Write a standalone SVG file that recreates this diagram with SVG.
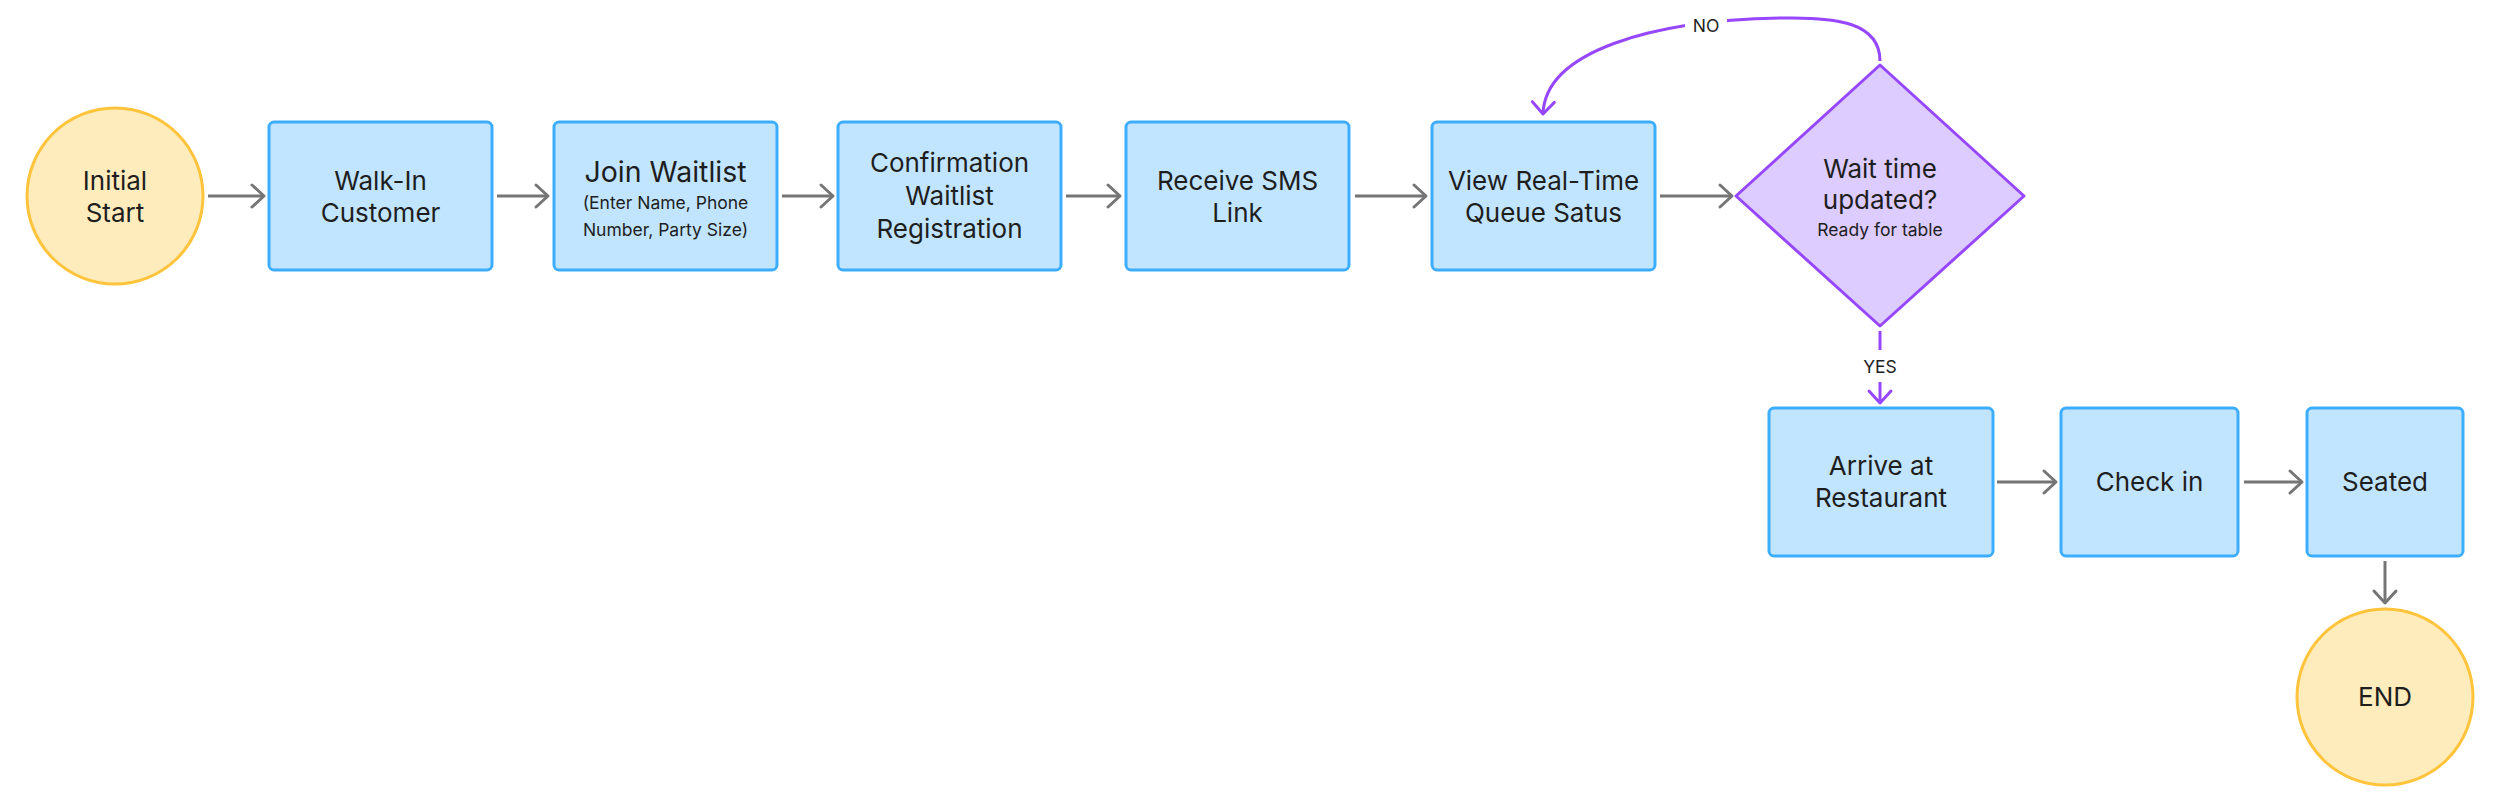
<svg xmlns="http://www.w3.org/2000/svg" width="2500" height="811" viewBox="0 0 2500 811">
<defs>
<style>
.box{fill:#C2E5FF;stroke:#3DADFF;stroke-width:3}
.term{fill:#FFECBD;stroke:#FFC43B;stroke-width:3}
.dec{fill:#DCCCFF;stroke:#9747FF;stroke-width:3;stroke-linejoin:round}
.t{font-family:Inter,"Liberation Sans",sans-serif;fill:#1E1E1E;text-anchor:middle}
.m{font-size:26px}
.big{font-size:28.5px}
.s{font-size:17.5px}
.cg{fill:none;stroke:#757575;stroke-width:3}
.cp{fill:none;stroke:#9747FF;stroke-width:3}
</style>
<marker id="ag" viewBox="0 0 20 30" refX="17" refY="15" markerWidth="20" markerHeight="30" markerUnits="userSpaceOnUse" orient="auto">
<path d="M 5 4 L 17 15 L 5 26" fill="none" stroke="#757575" stroke-width="3" stroke-linecap="round" stroke-linejoin="round"/>
</marker>
<marker id="ap" viewBox="0 0 20 30" refX="17" refY="15" markerWidth="20" markerHeight="30" markerUnits="userSpaceOnUse" orient="auto">
<path d="M 5 4 L 17 15 L 5 26" fill="none" stroke="#9747FF" stroke-width="3" stroke-linecap="round" stroke-linejoin="round"/>
</marker>
</defs>
<rect width="2500" height="811" fill="#FFFFFF"/>

<g id="connectors">
<line class="cg" x1="208" y1="196" x2="264" y2="196" marker-end="url(#ag)"/>
<line class="cg" x1="497" y1="196" x2="548" y2="196" marker-end="url(#ag)"/>
<line class="cg" x1="782" y1="196" x2="833" y2="196" marker-end="url(#ag)"/>
<line class="cg" x1="1066" y1="196" x2="1120" y2="196" marker-end="url(#ag)"/>
<line class="cg" x1="1355" y1="196" x2="1426" y2="196" marker-end="url(#ag)"/>
<line class="cg" x1="1660" y1="196" x2="1732" y2="196" marker-end="url(#ag)"/>
<path class="cp" d="M 1880 61 C 1880 22, 1835 17, 1783 18 C 1650 20, 1545 52, 1543 114" marker-end="url(#ap)"/>
<line class="cp" x1="1880" y1="331" x2="1880" y2="403" marker-end="url(#ap)"/>
<line class="cg" x1="1997" y1="482" x2="2056" y2="482" marker-end="url(#ag)"/>
<line class="cg" x1="2244" y1="482" x2="2302" y2="482" marker-end="url(#ag)"/>
<line class="cg" x1="2385" y1="561" x2="2385" y2="603" marker-end="url(#ag)"/>
<rect x="1685" y="10" width="42" height="28" fill="#FFFFFF"/>
<text class="t s" x="1706" y="32">NO</text>
<rect x="1858" y="350" width="44" height="32" fill="#FFFFFF"/>
<text class="t s" x="1880" y="373">YES</text>
</g>

<g id="start">
<circle class="term" cx="115" cy="196" r="88"/>
<text class="t m" x="115" y="190">Initial</text>
<text class="t m" x="115" y="222">Start</text>
</g>

<g id="walkin">
<rect class="box" x="269" y="122" width="223" height="148" rx="5"/>
<text class="t m" x="380.5" y="190">Walk-In</text>
<text class="t m" x="380.5" y="222">Customer</text>
</g>

<g id="join">
<rect class="box" x="554" y="122" width="223" height="148" rx="5"/>
<text class="t big" x="665.5" y="182">Join Waitlist</text>
<text class="t s" x="665.5" y="209">(Enter Name, Phone</text>
<text class="t s" x="665.5" y="236">Number, Party Size)</text>
</g>

<g id="confirm">
<rect class="box" x="838" y="122" width="223" height="148" rx="5"/>
<text class="t m" x="949.5" y="172">Confirmation</text>
<text class="t m" x="949.5" y="205">Waitlist</text>
<text class="t m" x="949.5" y="238">Registration</text>
</g>

<g id="sms">
<rect class="box" x="1126" y="122" width="223" height="148" rx="5"/>
<text class="t m" x="1237.5" y="190">Receive SMS</text>
<text class="t m" x="1237.5" y="222">Link</text>
</g>

<g id="view">
<rect class="box" x="1432" y="122" width="223" height="148" rx="5"/>
<text class="t m" x="1543.5" y="190">View Real-Time</text>
<text class="t m" x="1543.5" y="222">Queue Satus</text>
</g>

<g id="decision">
<path class="dec" d="M 1880 65 L 2024 196 L 1880 326 L 1736 196 Z"/>
<text class="t m" x="1880" y="178">Wait time</text>
<text class="t m" x="1880" y="209">updated?</text>
<text class="t s" x="1880" y="236">Ready for table</text>
</g>

<g id="arrive">
<rect class="box" x="1769" y="408" width="224" height="148" rx="5"/>
<text class="t m" x="1881" y="475">Arrive at</text>
<text class="t m" x="1881" y="507">Restaurant</text>
</g>

<g id="checkin">
<rect class="box" x="2061" y="408" width="177" height="148" rx="5"/>
<text class="t m" x="2149.5" y="491">Check in</text>
</g>

<g id="seated">
<rect class="box" x="2307" y="408" width="156" height="148" rx="5"/>
<text class="t m" x="2385" y="491">Seated</text>
</g>

<g id="end">
<circle class="term" cx="2385" cy="697" r="88"/>
<text class="t m" x="2385" y="706">END</text>
</g>
</svg>
